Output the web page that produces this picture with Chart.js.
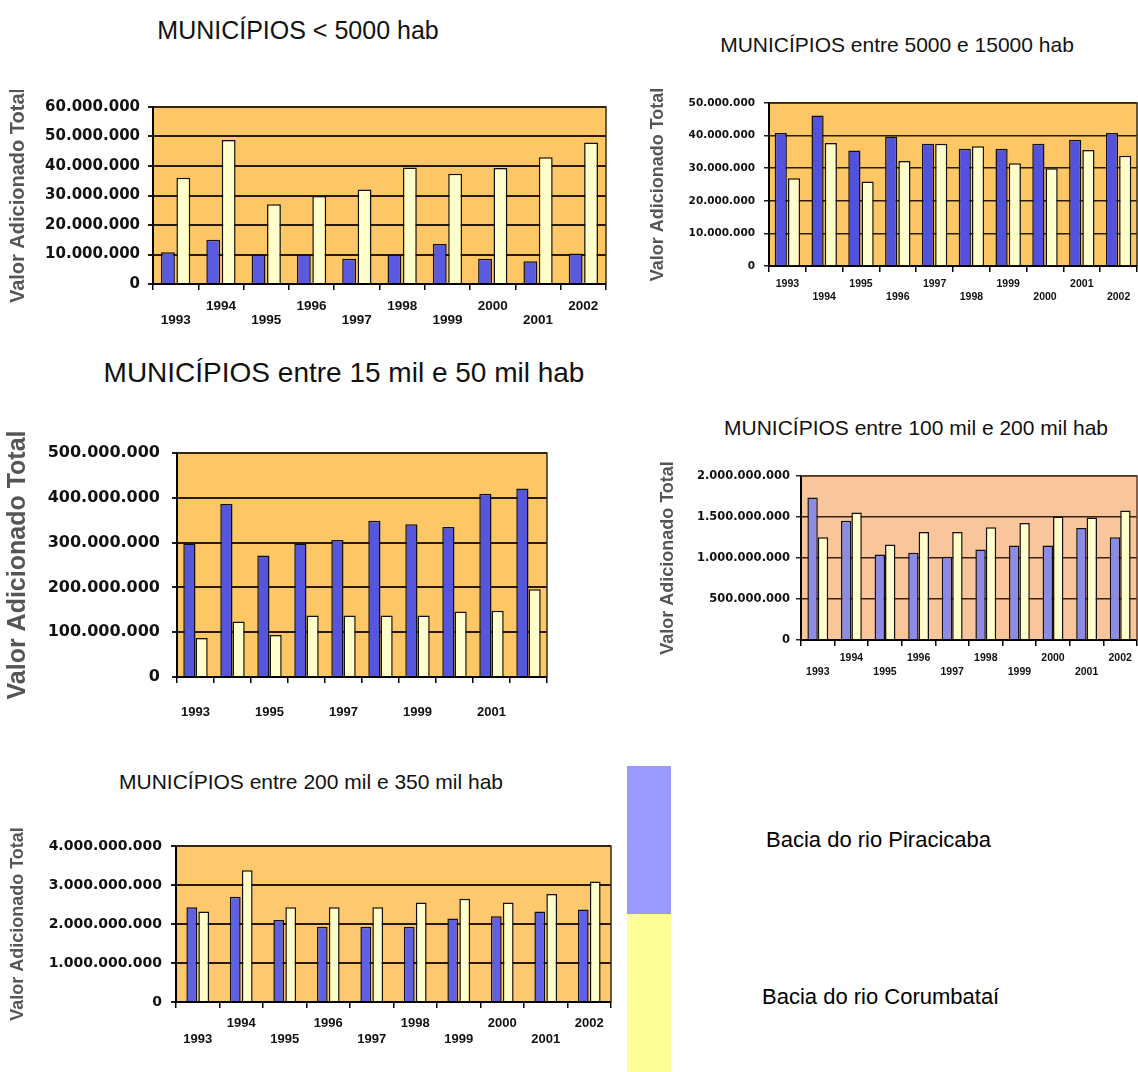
<!DOCTYPE html>
<html><head><meta charset="utf-8">
<script src="https://cdn.jsdelivr.net/npm/chart.js@4/dist/chart.umd.min.js"></script>
<style>
html,body{margin:0;padding:0;background:#fff;}
#page{position:relative;width:1138px;height:1072px;overflow:hidden;background:#fff;}
canvas{position:absolute;}
.title{position:absolute;transform:translate(-50%,-50%);white-space:nowrap;font-family:"Liberation Sans",Arial,sans-serif;color:#111;}
.legtext{position:absolute;transform:translateY(-50%);white-space:nowrap;font-family:"Liberation Sans",Arial,sans-serif;font-size:22px;color:#000;}
.swatch{position:absolute;}
</style></head>
<body><div id="page">
<canvas id="c1" width="620" height="250" style="left:0px;top:90px"></canvas>
<canvas id="c2" width="498" height="230" style="left:640px;top:80px"></canvas>
<canvas id="c3" width="620" height="300" style="left:0px;top:430px"></canvas>
<canvas id="c4" width="498" height="240" style="left:640px;top:450px"></canvas>
<canvas id="c5" width="625" height="272" style="left:0px;top:800px"></canvas>
<div class="title" id="t1" style="left:298px;top:30px;font-size:25px;"></div>
<div class="title" id="t2" style="left:897px;top:45px;font-size:21px;"></div>
<div class="title" id="t3" style="left:344px;top:373px;font-size:28px;"></div>
<div class="title" id="t4" style="left:916px;top:428px;font-size:21px;"></div>
<div class="title" id="t5" style="left:311px;top:782px;font-size:21px;"></div>
<div class="swatch" id="sw1" style="left:627px;top:766px;width:44px;height:148px;background:#9999ff"></div>
<div class="swatch" id="sw2" style="left:627px;top:914px;width:44px;height:158px;background:#ffff99"></div>
<div class="legtext" id="l1" style="left:766px;top:840px"></div>
<div class="legtext" id="l2" style="left:762px;top:997px"></div>
</div>
<script>
// ---------- DATA ----------
const years = ['1993','1994','1995','1996','1997','1998','1999','2000','2001','2002'];
const chart3Years = ['1993','1995','1997','1999','2001'];
const seriesNames = ['Bacia do rio Piracicaba', 'Bacia do rio Corumbataí'];
const chartTitles = [
  'MUNICÍPIOS < 5000 hab',
  'MUNICÍPIOS entre 5000 e 15000 hab',
  'MUNICÍPIOS entre 15 mil e 50 mil hab',
  'MUNICÍPIOS entre 100 mil e 200 mil hab',
  'MUNICÍPIOS entre 200 mil e 350 mil hab'
];
const yAxisTitle = 'Valor Adicionado Total';

// < 5000 hab
const c1Piracicaba = [10.8e6, 15.0e6, 10.0e6, 10.0e6, 8.6e6, 10.0e6, 13.6e6, 8.6e6, 7.7e6, 10.3e6];
const c1Corumbatai = [36.0e6, 48.8e6, 27.0e6, 29.8e6, 32.0e6, 39.5e6, 37.4e6, 39.3e6, 43.0e6, 48.0e6];
const c1Max = 60e6, c1Step = 10e6;
// 5000 - 15000 hab
const c2Piracicaba = [40.8e6, 46.2e6, 35.4e6, 39.7e6, 37.5e6, 36.0e6, 36.0e6, 37.5e6, 38.7e6, 40.8e6];
const c2Corumbatai = [26.9e6, 37.7e6, 25.9e6, 32.2e6, 37.5e6, 36.7e6, 31.5e6, 30.0e6, 35.6e6, 33.8e6];
const c2Max = 50e6, c2Step = 10e6;
// 15 mil - 50 mil hab
const c3Piracicaba = [298e6, 386e6, 271e6, 298e6, 306e6, 349e6, 341e6, 335e6, 409e6, 421e6];
const c3Corumbatai = [87e6, 124e6, 94e6, 137e6, 137e6, 137e6, 137e6, 146e6, 148e6, 196e6];
const c3Max = 500e6, c3Step = 100e6;
// 100 mil - 200 mil hab
const c4Piracicaba = [1737e6, 1455e6, 1042e6, 1063e6, 1014e6, 1103e6, 1152e6, 1152e6, 1366e6, 1253e6];
const c4Corumbatai = [1253e6, 1556e6, 1164e6, 1317e6, 1317e6, 1374e6, 1426e6, 1507e6, 1495e6, 1580e6];
const c4Max = 2000e6, c4Step = 500e6;
// 200 mil - 350 mil hab
const c5Piracicaba = [2430e6, 2700e6, 2100e6, 1930e6, 1930e6, 1930e6, 2140e6, 2200e6, 2320e6, 2370e6];
const c5Corumbatai = [2320e6, 3380e6, 2430e6, 2430e6, 2430e6, 2550e6, 2650e6, 2550e6, 2770e6, 3090e6];
const c5Max = 4000e6, c5Step = 1000e6;

// ---------- TEXT ----------
['t1','t2','t3','t4','t5'].forEach((id,i)=>{ document.getElementById(id).textContent = chartTitles[i]; });
document.getElementById('l1').textContent = seriesNames[0];
document.getElementById('l2').textContent = seriesNames[1];

// ---------- HELPERS ----------
function fmt(v){ return String(Math.round(v)).replace(/\B(?=(\d{3})+(?!\d))/g, '.'); }

const bgPlugin = {
  id: 'bg',
  beforeDraw(chart, args, opts){
    const a = chart.chartArea, ctx = chart.ctx;
    ctx.save();
    ctx.fillStyle = opts.color;
    ctx.fillRect(a.left, a.top, a.right - a.left, a.bottom - a.top);
    ctx.restore();
  },
  afterDraw(chart, args, opts){
    const a = chart.chartArea, ctx = chart.ctx;
    ctx.save();
    ctx.strokeStyle = opts.border;
    ctx.lineWidth = 1.5;
    ctx.beginPath();
    ctx.moveTo(a.left, a.top); ctx.lineTo(a.right, a.top); ctx.lineTo(a.right, a.bottom);
    ctx.stroke();
    ctx.restore();
  }
};

const evenLow = (v, i) => i % 2 === 0 ? ['', years[i]] : years[i];
const oddLow  = (v, i) => i % 2 === 1 ? ['', years[i]] : years[i];
const sparse  = (v, i) => chart3Years.includes(years[i]) ? years[i] : '';

function makeChart(id, st, a, b, max, step, labelCb){
  return new Chart(document.getElementById(id), {
    type: 'bar',
    data: {
      labels: years,
      datasets: [
        { label: seriesNames[0], data: a, backgroundColor: st.blue, borderColor: '#111', borderWidth: st.bw,
          categoryPercentage: st.cat, barPercentage: st.bar },
        { label: seriesNames[1], data: b, backgroundColor: '#ffffcc', borderColor: '#111', borderWidth: st.bw,
          categoryPercentage: st.cat, barPercentage: st.bar }
      ]
    },
    options: {
      responsive: false, animation: false, devicePixelRatio: 1,
      layout: { padding: { top: st.pt, right: st.pr, left: 0, bottom: 0 } },
      plugins: {
        legend: { display: false }, tooltip: { enabled: false }, title: { display: false },
        bg: { color: st.bg, border: st.border }
      },
      scales: {
        x: {
          grid: { display: true, drawOnChartArea: false, drawTicks: true, tickLength: 6, color: '#000', lineWidth: 1.5, offset: true },
          border: { display: true, color: '#000', width: 2 },
          ticks: { autoSkip: false, maxRotation: 0, minRotation: 0, padding: st.xpad, color: '#111',
            font: { family: '"Liberation Sans", Arial, sans-serif', size: st.xfs, weight: 'bold', lineHeight: st.xlh },
            callback: labelCb },
          afterFit(s){ s.height = st.xh; }
        },
        y: {
          min: 0, max: max,
          ticks: { stepSize: step, padding: st.ypad, color: '#111',
            font: { family: '"DejaVu Sans", sans-serif', size: st.yfs, weight: 'bold' },
            callback: v => fmt(v) },
          grid: { color: st.grid, lineWidth: st.gw, tickLength: 5, drawTicks: true },
          border: { display: true, color: '#000', width: 2 },
          title: { display: true, text: yAxisTitle, color: '#555',
            font: { family: '"Liberation Sans", Arial, sans-serif', size: st.tfs, weight: 'bold' },
            padding: { top: st.tp, bottom: 0 } },
          afterFit(s){ s.width = st.yw; }
        }
      }
    },
    plugins: [bgPlugin]
  });
}

makeChart('c1', { blue:'#5a5ae0', bw:1.5, cat:0.68, bar:0.9, pt:14, pr:14, bg:'#fec765', border:'#3a2a10',
  xpad:10, xfs:13.5, xlh:1.0, xh:56, ypad:8, yfs:15, grid:'#2a1a0a', gw:2, tfs:20, tp:6, yw:153 },
  c1Piracicaba, c1Corumbatai, c1Max, c1Step, evenLow);

makeChart('c2', { blue:'#5252dc', bw:1.5, cat:0.72, bar:0.92, pt:23, pr:1, bg:'#fdc766', border:'#3a2a10',
  xpad:6, xfs:10.5, xlh:1.2, xh:44, ypad:9, yfs:10.5, grid:'#2a1a0a', gw:1.5, tfs:18, tp:7, yw:129 },
  c2Piracicaba, c2Corumbatai, c2Max, c2Step, oddLow);

makeChart('c3', { blue:'#5555dd', bw:1.5, cat:0.66, bar:1.0, pt:23, pr:73, bg:'#fdc766', border:'#3a2a10',
  xpad:22, xfs:13, xlh:1.2, xh:53, ypad:12, yfs:16, grid:'#2a1a0a', gw:2, tfs:25, tp:3, yw:177 },
  c3Piracicaba, c3Corumbatai, c3Max, c3Step, sparse);

makeChart('c4', { blue:'#8c8ce8', bw:1.5, cat:0.62, bar:1.0, pt:26, pr:1, bg:'#f8c69a', border:'#6a3a20',
  xpad:5, xfs:10.5, xlh:1.33, xh:50, ypad:6, yfs:11.5, grid:'#3a2010', gw:1.5, tfs:18, tp:17, yw:161 },
  c4Piracicaba, c4Corumbatai, c4Max, c4Step, evenLow);

makeChart('c5', { blue:'#6060e2', bw:1.5, cat:0.55, bar:0.9, pt:46, pr:14, bg:'#fdc86e', border:'#3a2a10',
  xpad:6.5, xfs:13, xlh:1.3, xh:70, ypad:9, yfs:14, grid:'#2a1a0a', gw:2, tfs:18, tp:7, yw:176 },
  c5Piracicaba, c5Corumbatai, c5Max, c5Step, evenLow);
</script>
</body></html>
